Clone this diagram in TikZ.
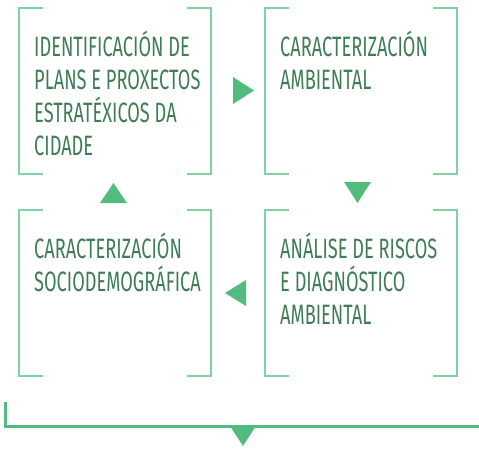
\documentclass[tikz,border=0pt]{standalone}
\usepackage{fontspec}
\newfontfamily\stagefont{Fira Sans}[FakeStretch=0.65]
\definecolor{bracketgreen}{HTML}{80D2A2}
\definecolor{arrowgreen}{HTML}{52BC7E}
\definecolor{textgreen}{HTML}{3F7D56}

\begin{document}
\begin{tikzpicture}[x=1pt, y=-1pt, every node/.style={inner sep=0pt, anchor=base west, align=left, text=textgreen, font=\stagefont\fontsize{28}{33}\selectfont}]
	\useasboundingbox (0, 0) rectangle (479, 448);
	
	\foreach \x/\y in {19/8, 265/8, 19/210, 265/210}
	{
		\draw[bracketgreen, line width=1.2pt] (\x + 24, \y) -- (\x, \y) -- (\x, \y + 166) -- (\x + 24, \y + 166);
		\draw[bracketgreen, line width=1.2pt] (\x + 168, \y) -- (\x + 192, \y) -- (\x + 192, \y + 166) -- (\x + 168, \y + 166);
	}
	
	% base anchor sits on the last line
	\node (plans) at (34, 155) {IDENTIFICACIÓN DE\\PLANS E PROXECTOS\\ESTRATÉXICOS DA\\CIDADE};
	\node (ambiental) at (280, 89) {CARACTERIZACIÓN\\AMBIENTAL};
	\node (socio) at (34, 291) {CARACTERIZACIÓN\\SOCIODEMOGRÁFICA};
	\node (riscos) at (280, 324) {ANÁLISE DE RISCOS\\E DIAGNÓSTICO\\AMBIENTAL};
	
	\fill[arrowgreen] (233, 77) -- (254, 90.5) -- (233, 104) -- cycle;
	\fill[arrowgreen] (344, 182) -- (371, 182) -- (357.5, 203) -- cycle;
	\fill[arrowgreen] (246, 280) -- (225, 293) -- (246, 306) -- cycle;
	\fill[arrowgreen] (100, 203) -- (113.5, 183) -- (127, 203) -- cycle;
	
	\draw[arrowgreen, line width=3pt] (5, 402) -- (5, 426) -- (479, 426);
	\fill[arrowgreen] (230, 426) -- (256, 426) -- (243, 446) -- cycle;
\end{tikzpicture}
\end{document}
